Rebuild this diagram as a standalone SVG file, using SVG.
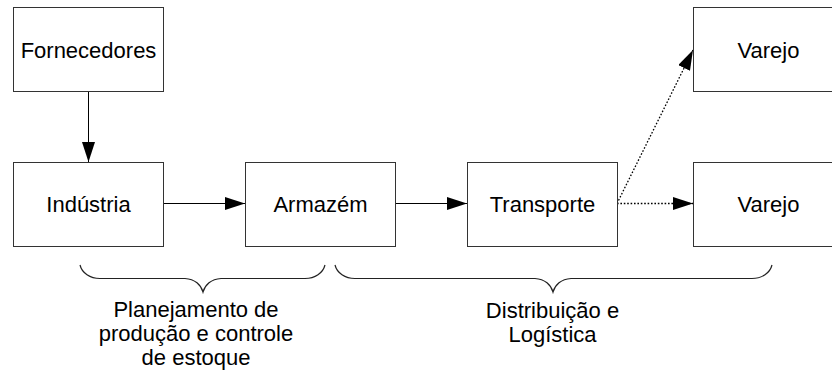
<svg xmlns="http://www.w3.org/2000/svg" width="832" height="375" viewBox="0 0 832 375">
  <style>
    .box { fill: #ffffff; stroke: #333333; stroke-width: 1; }
    .lbl { font-family: "Liberation Sans", Arial, sans-serif; font-size: 22px; fill: #000000; text-anchor: middle; }
    .link { fill: none; stroke: #000000; stroke-width: 1; }
    .dotted { stroke-width: 1.3; stroke-dasharray: 1.6 1.8; }
    .brace { fill: none; stroke: #222222; stroke-width: 1.2; }
  </style>
  <defs>
    <marker id="arrow" markerUnits="userSpaceOnUse" markerWidth="21" markerHeight="14" refX="20" refY="6.5" orient="auto">
      <path d="M0,0 L20,6.5 L0,13 Z" fill="#000000"/>
    </marker>
  </defs>
  <rect width="832" height="375" fill="#ffffff"/>

  <g id="connectors">
    <line class="link" x1="88.5" y1="91" x2="88.5" y2="162" marker-end="url(#arrow)"/>
    <line class="link" x1="163" y1="203.5" x2="245" y2="203.5" marker-end="url(#arrow)"/>
    <line class="link" x1="396" y1="203.5" x2="467" y2="203.5" marker-end="url(#arrow)"/>
    <line class="link dotted" x1="617" y1="203.5" x2="693" y2="203.5" marker-end="url(#arrow)"/>
    <line class="link dotted" x1="617" y1="203.5" x2="693" y2="50" marker-end="url(#arrow)"/>
  </g>

  <g id="fornecedores">
    <rect class="box" x="13.5" y="7.5" width="150" height="84"/>
    <text class="lbl" x="88.5" y="57.5">Fornecedores</text>
  </g>
  <g id="industria">
    <rect class="box" x="13.5" y="162.5" width="150" height="84"/>
    <text class="lbl" x="88.5" y="212">Indústria</text>
  </g>
  <g id="armazem">
    <rect class="box" x="245.5" y="162.5" width="150" height="84"/>
    <text class="lbl" x="320.5" y="212">Armazém</text>
  </g>
  <g id="transporte">
    <rect class="box" x="467.5" y="162.5" width="150" height="84"/>
    <text class="lbl" x="542.5" y="212">Transporte</text>
  </g>
  <g id="varejo-1">
    <rect class="box" x="693.5" y="7.5" width="150" height="84"/>
    <text class="lbl" x="768.5" y="57.5">Varejo</text>
  </g>
  <g id="varejo-2">
    <rect class="box" x="693.5" y="162.5" width="150" height="84"/>
    <text class="lbl" x="768.5" y="212">Varejo</text>
  </g>

  <g id="planejamento">
    <path class="brace" d="M80,265 C82,273 90,278.5 100,278.5 L185,278.5 C195,279 201,285 203,292 C205,285 211,279 221,278.5 L305,278.5 C315,278.5 323,273 325,265"/>
    <text class="lbl" x="196" y="317">Planejamento de</text>
    <text class="lbl" x="196" y="341">produção e controle</text>
    <text class="lbl" x="196" y="365">de estoque</text>
  </g>
  <g id="distribuicao">
    <path class="brace" d="M335,265 C337,273 345,278.5 355,278.5 L535,278.5 C545,279 551,285 553,292 C555,285 561,279 571,278.5 L752,278.5 C762,278.5 770,273 772,265"/>
    <text class="lbl" x="552.5" y="318">Distribuição e</text>
    <text class="lbl" x="552.5" y="342">Logística</text>
  </g>
</svg>
